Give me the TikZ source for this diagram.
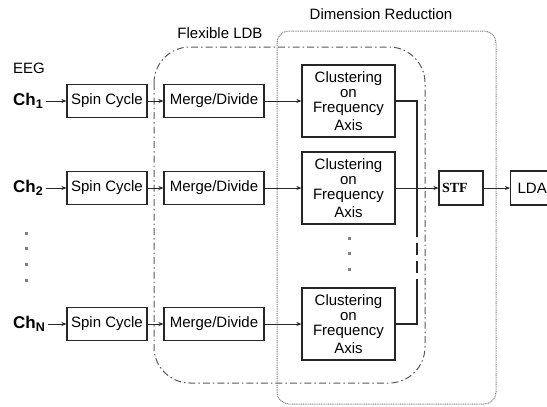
\documentclass[tikz,border=0pt]{standalone}
\usepackage{fontspec}
\setmainfont{Liberation Sans}
\newfontfamily\stffont{Liberation Serif}
\usetikzlibrary{arrows.meta}
\newcommand{\chan}[1]{\textbf{Ch\raisebox{-0.35ex}{\fontsize{12.5}{12.5}\selectfont #1}}}

\begin{document}
\begin{tikzpicture}[x=1pt,y=-1pt,
  font=\fontsize{15}{15}\selectfont,
  blk/.style={draw=black!85,line width=1.2pt,inner sep=0pt,minimum height=33pt},
  spinbox/.style={blk,minimum width=80pt},
  mergebox/.style={blk,minimum width=100pt},
  clusbox/.style={blk,minimum width=93pt,minimum height=72pt,align=center},
  chlabel/.style={anchor=west,inner ysep=0pt,inner xsep=2.5pt,font=\fontsize{17}{17}\selectfont},
  arr/.style={draw=black!85,-{Stealth[length=5pt,width=4pt]},line width=0.9pt},
  wire/.style={draw=black!85,line width=1.2pt},
  dot/.style={fill=gray,inner sep=0pt,minimum size=3pt}]
\useasboundingbox (0,0) rectangle (547,407);

% frames
\draw[gray!70!black,line width=1pt,dash pattern=on 7pt off 3pt on 1.5pt off 3pt,rounded corners=36pt] (154,47) rectangle (425,383);
\draw[gray,line width=1pt,dash pattern=on 1pt off 0.8pt,rounded corners=12pt] (277,31) rectangle (496,404);

\node (dr) at (381,14) {Dimension Reduction};
\node (ldb) at (220,33) {Flexible LDB};
\node[anchor=west,inner sep=0pt] (eeg) at (13,68) {EEG};

% channels
\node[chlabel] (ch1) at (10.5,101) {\chan{1}};
\node[chlabel] (ch2) at (10.5,188) {\chan{2}};
\node[chlabel] (chN) at (10.5,324) {\chan{N}};
\foreach \y in {233,248,264,280}
  \node[dot] (d\y) at (26,\y) {};

\node[spinbox] (spin1) at (107,101) {Spin Cycle};
\node[spinbox] (spin2) at (107,188) {Spin Cycle};
\node[spinbox] (spinN) at (107,324) {Spin Cycle};

\node[mergebox] (merge1) at (214,101) {Merge/Divide};
\node[mergebox] (merge2) at (214,188) {Merge/Divide};
\node[mergebox] (mergeN) at (214,324) {Merge/Divide};

\node[clusbox] (clus1) at (348.5,101) {Clustering\\on\\Frequency\\[3pt]Axis};
\node[clusbox] (clus2) at (348.5,188) {Clustering\\on\\Frequency\\[3pt]Axis};
\node[clusbox] (clusN) at (348.5,324) {Clustering\\on\\Frequency\\[3pt]Axis};
\foreach \y in {238,253,269}
  \node[dot] (e\y) at (349,\y) {};

\node[blk,minimum height=34pt,text width=38pt,inner xsep=3pt,align=left] (stf) at (461,188) {\stffont\bfseries\fontsize{14}{14}\selectfont STF};
\node[blk,minimum height=34pt,text width=40pt,inner xsep=7pt,align=left,anchor=west] (lda) at (510,188) {LDA};

\draw[arr] (ch1.east |- spin1) -- (spin1);
\draw[arr] (ch2.east |- spin2) -- (spin2);
\draw[arr] (chN.east |- spinN) -- (spinN);

\draw[arr] (spin1) -- (merge1);
\draw[arr] (spin2) -- (merge2);
\draw[arr] (spinN) -- (mergeN);

\draw[arr] (merge1) -- (clus1);
\draw[arr] (merge2) -- (clus2);
\draw[arr] (mergeN) -- (clusN);

% collector
\coordinate (j1) at (417,101);
\coordinate (ja) at (417,225);
\coordinate (jb) at (417,288);
\coordinate (jN) at (417,324);
\draw[wire] (clus1) -- (j1) -- (ja);
\draw[wire,dash pattern=on 12pt off 6pt] (ja) -- (jb);
\draw[wire] (jb) -- (jN) -- (clusN);

\draw[arr] (clus2) -- (stf);
\draw[arr] (stf) -- (lda);
\end{tikzpicture}
\end{document}
